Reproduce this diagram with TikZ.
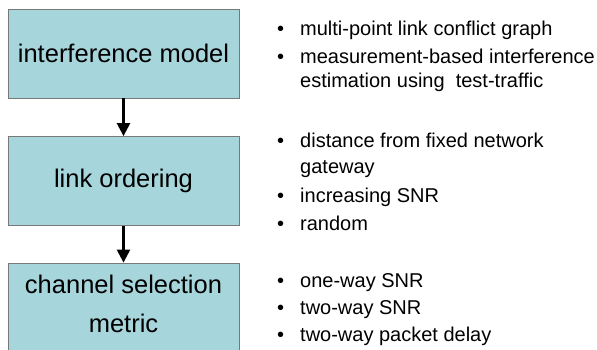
\documentclass[tikz,border=0pt]{standalone}
\usepackage{fontspec}
\setmainfont{Liberation Sans}
\usetikzlibrary{arrows.meta}
\definecolor{boxfill}{RGB}{166,213,219}
\definecolor{boxline}{RGB}{120,120,120}
\begin{document}
\begin{tikzpicture}[x=1pt,y=-1pt,
 box/.style={draw=boxline, line width=0.8pt, fill=boxfill, minimum width=231pt, minimum height=89pt, inner sep=0pt, font=\fontsize{25.5}{39}\selectfont, align=center},
 boxtext/.style={inner sep=0pt, font=\fontsize{25.5}{39}\selectfont, align=center},
 flow/.style={-{Triangle[length=13pt,width=13pt]}, line width=2.4pt},
 item/.style={anchor=base west, inner sep=0pt, font=\fontsize{20}{24}\selectfont},
]
\useasboundingbox (0,0) rectangle (597,350);
% boxes
\node[box] (b1) at (123.5,53.5) {interference model};
\node[box] (b2) at (123.5,181) {link ordering};
\node[box] (b3) at (123.5,307.5) {};
\node[boxtext] (t3) at (123.5,303.5) {channel selection\\metric};
% arrows
\draw[flow] (b1.south) -- (b2.north);
\draw[flow] (b2.south) -- (b3.north);
% bullets and items
\foreach \y/\n in {36/p1,64/p2,147/p3,202/p4,230/p5,287/p6,314/p7,341/p8}
  \node[item] (\n) at (277,\y) {•};
\node[item] (i1) at (300,36) {multi-point link conflict graph};
\node[item] (i2) at (300,64) {measurement-based interference};
\node[item] (i2b) at (300,88) {estimation using\ \ test-traffic};
\node[item] (i3) at (300,147) {distance from fixed network};
\node[item] (i3b) at (300,173) {gateway};
\node[item] (i4) at (300,202) {increasing SNR};
\node[item] (i5) at (300,230) {random};
\node[item] (i6) at (300,287) {one-way SNR};
\node[item] (i7) at (300,314) {two-way SNR};
\node[item] (i8) at (300,341) {two-way packet delay};
\end{tikzpicture}
\end{document}
